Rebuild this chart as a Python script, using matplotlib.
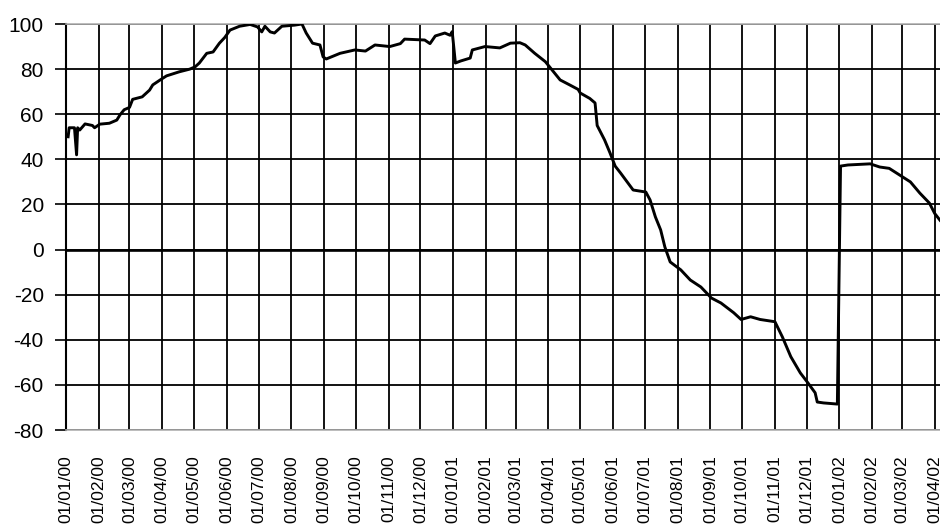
import pandas as pd
import matplotlib
matplotlib.use("Agg")
import matplotlib.pyplot as plt
import matplotlib.dates as mdates

plt.rcParams['font.family'] = ['Liberation Sans', 'DejaVu Sans']
plt.rcParams['axes.unicode_minus'] = False

# values
dates = [
    "2000-01-03", "2000-01-04", "2000-01-09", "2000-01-11", "2000-01-12", "2000-01-14",
    "2000-01-19", "2000-01-26", "2000-01-28", "2000-02-02", "2000-02-11", "2000-02-18",
    "2000-02-21", "2000-02-25", "2000-03-01", "2000-03-04", "2000-03-13", "2000-03-20",
    "2000-03-23", "2000-03-30", "2000-04-05", "2000-04-17", "2000-04-27", "2000-05-02",
    "2000-05-06", "2000-05-13", "2000-05-19", "2000-05-25", "2000-05-30", "2000-06-04",
    "2000-06-13", "2000-06-23", "2000-06-30", "2000-07-04", "2000-07-07", "2000-07-12",
    "2000-07-16", "2000-07-23", "2000-08-04", "2000-08-11", "2000-08-15", "2000-08-21",
    "2000-08-28", "2000-08-31", "2000-09-03", "2000-09-16", "2000-09-30", "2000-10-10",
    "2000-10-19", "2000-11-02", "2000-11-12", "2000-11-16", "2000-12-05", "2000-12-10",
    "2000-12-15", "2000-12-24", "2000-12-29", "2000-12-31", "2001-01-03", "2001-01-08",
    "2001-01-17", "2001-01-19", "2001-01-31", "2001-02-14", "2001-02-24", "2001-03-05",
    "2001-03-10", "2001-03-19", "2001-03-29", "2001-04-02", "2001-04-12", "2001-04-21",
    "2001-04-29", "2001-05-01", "2001-05-10", "2001-05-15", "2001-05-17", "2001-05-24",
    "2001-05-29", "2001-06-03", "2001-06-08", "2001-06-20", "2001-07-02", "2001-07-06",
    "2001-07-11", "2001-07-16", "2001-07-20", "2001-07-25", "2001-08-04", "2001-08-13",
    "2001-08-23", "2001-09-02", "2001-09-11", "2001-09-23", "2001-09-30", "2001-10-09",
    "2001-10-18", "2001-11-01", "2001-11-08", "2001-11-16", "2001-11-25", "2001-12-02",
    "2001-12-09", "2001-12-11", "2001-12-17", "2001-12-30", "2002-01-01", "2002-01-02",
    "2002-01-09", "2002-01-30", "2002-02-08", "2002-02-17", "2002-02-27", "2002-03-09",
    "2002-03-18", "2002-03-27", "2002-04-01", "2002-04-06",
]
values = [
    50, 54, 54, 42, 54, 53,
    55.7, 55, 54, 55.6, 56, 57.4,
    59.7, 62, 63, 66.6, 67.7, 70.7,
    73, 75.2, 77, 78.8, 80, 81,
    82.7, 87, 87.6, 91.5, 94, 97.3,
    99, 99.8, 98.7, 96.5, 99, 96.5,
    96, 99, 99.5, 100, 96, 91.5,
    90.7, 85.4, 84.5, 87, 88.5, 88,
    90.7, 90, 91.3, 93.3, 92.9, 91.3,
    94.7, 96, 95, 96.6, 82.7, 83.6,
    84.9, 88.5, 90, 89.4, 91.5, 91.7,
    90.7, 87, 83.3, 81, 75.2, 73,
    71, 69.4, 67, 65, 55, 48.6,
    43, 37, 34, 26.4, 25.5, 22,
    14.5, 8.7, 1.1, -5.5, -9, -13.5,
    -16.6, -21.5, -23.7, -28, -31, -29.8,
    -31, -32, -38.7, -47.5, -54.7, -59,
    -63.5, -67.6, -68, -68.5, 2, 37,
    37.5, 38, 36.6, 36, 33, 30,
    25, 20.6, 16, 13,
]
month_ticks = pd.date_range("2000-01-01", "2002-04-01", freq="MS")
y_ticks = list(range(-80, 101, 20))

x = pd.to_datetime(dates)

fig = plt.figure(figsize=(9.4, 5.26), dpi=100)
ax = fig.add_axes([66 / 940, 1 - 430 / 526, 1 - 66 / 940, (430 - 24) / 526])

ax.set_xlim(pd.Timestamp("2000-01-01"), pd.Timestamp("2002-04-06"))
ax.set_ylim(-80, 100)

# grid
ax.set_yticks(y_ticks)
ax.set_xticks(month_ticks)
ax.xaxis.set_major_formatter(mdates.DateFormatter("%d/%m/%y"))
ax.grid(True, color="black", linewidth=1.3)
ax.axhline(0, color="black", linewidth=1.9, zorder=2)
ax.set_axisbelow(True)

ax.plot(x, values, color="black", linewidth=2.1, zorder=3)

for side in ["top", "bottom"]:
    ax.spines[side].set_color("#b0b0b0")
    ax.spines[side].set_linewidth(1.2)
ax.spines["right"].set_visible(False)
ax.spines["left"].set_linewidth(1.5)

ax.tick_params(axis="y", length=8, width=1.2, pad=8, labelsize=15)
ax.tick_params(axis="x", length=0, pad=18, labelsize=12.5, labelrotation=90)

fig.savefig("out.png", dpi=100)
